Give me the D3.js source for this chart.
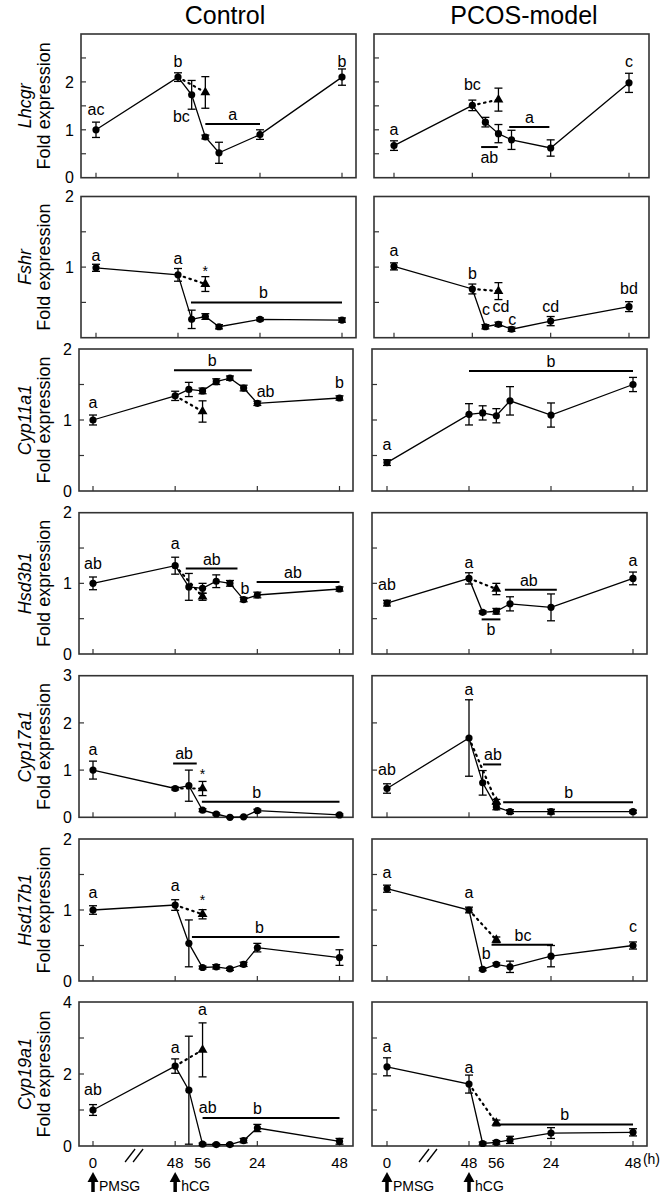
<!DOCTYPE html>
<html><head><meta charset="utf-8">
<script src="https://cdn.jsdelivr.net/npm/d3@7"></script>
<style>body{margin:0;background:#fff}svg{display:block}text{font-family:"Liberation Sans",Arial,sans-serif;fill:#000}</style>
</head><body><svg id="c" width="661" height="1202"></svg>
<script>
// ---------- data ----------
const genes = ["Lhcgr","Fshr","Cyp11a1","Hsd3b1","Cyp17a1","Hsd17b1","Cyp19a1"];
const groups = ["Control","PCOS-model"];
const yMax = [3,2,2,2,3,2,4];
const yTickStep = [0.5,0.5,0.5,0.5,1,0.5,1];
const yTickLabels = [[0,1,2],[1,2],[0,1,2],[0,1,2],[0,1,2,3],[0,1,2],[0,2,4]];
const xTickHours = [0,48,72,96];
const xAxisHours = [0,48,56,72,96];
const xAxisLabels = ["0","48","56","24","48"];
const arrowHours = [0,48];
const arrowLabels = ["PMSG","hCG"];

// series: [hour, mean, error]
const lhcgrCtrl = [[0,1.0,0.16],[48,2.1,0.09],[52,1.73,0.3],[56,0.85,0.04],[60,0.52,0.22],[72,0.9,0.1],[96,2.1,0.17]];
const lhcgrCtrlTri = [56,1.78,0.33];
const lhcgrPcos = [[0,0.67,0.1],[48,1.51,0.11],[52,1.16,0.1],[56,0.92,0.19],[60,0.79,0.2],[72,0.62,0.17],[96,1.98,0.2]];
const lhcgrPcosTri = [56,1.63,0.24];

const fshrCtrl = [[0,0.99,0.05],[48,0.89,0.09],[52,0.26,0.13],[56,0.30,0.04],[60,0.155,0.03],[72,0.26,0.02],[96,0.25,0.03]];
const fshrCtrlTri = [56,0.76,0.105];
const fshrPcos = [[0,1.01,0.05],[48,0.69,0.07],[52,0.155,0.03],[56,0.19,0.03],[60,0.12,0.03],[72,0.235,0.065],[96,0.44,0.07]];
const fshrPcosTri = [56,0.66,0.12];

const cyp11Ctrl = [[0,1.0,0.07],[48,1.34,0.065],[52,1.43,0.1],[56,1.41,0.04],[60,1.54,0.04],[64,1.59,0.03],[68,1.45,0.04],[72,1.235,0.03],[96,1.31,0.03]];
const cyp11CtrlTri = [56,1.12,0.15];
const cyp11Pcos = [[0,0.40,0.04],[48,1.08,0.15],[52,1.10,0.1],[56,1.06,0.1],[60,1.27,0.2],[72,1.07,0.17],[96,1.50,0.1]];
const cyp11PcosTri = null;

const hsd3Ctrl = [[0,1.0,0.09],[48,1.25,0.12],[52,0.95,0.19],[56,0.93,0.07],[60,1.03,0.09],[64,1.0,0.04],[68,0.77,0.03],[72,0.835,0.04],[96,0.92,0.03]];
const hsd3CtrlTri = [56,0.81,0.05];
const hsd3Pcos = [[0,0.72,0.04],[48,1.07,0.08],[52,0.59,0.02],[56,0.605,0.04],[60,0.71,0.1],[72,0.66,0.19],[96,1.07,0.09]];
const hsd3PcosTri = [56,0.92,0.08];

const cyp17Ctrl = [[0,1.0,0.19],[48,0.61,0.03],[52,0.67,0.33],[56,0.15,0.03],[60,0.07,0.02],[64,0.0,0.01],[68,0.01,0.01],[72,0.14,0.03],[96,0.05,0.02]];
const cyp17CtrlTri = [56,0.61,0.15];
const cyp17Pcos = [[0,0.61,0.1],[48,1.68,0.81],[52,0.73,0.26],[56,0.22,0.06],[60,0.12,0.04],[72,0.12,0.05],[96,0.12,0.03]];
const cyp17PcosTri = [56,0.33,0.05];

const hsd17Ctrl = [[0,1.0,0.06],[48,1.07,0.075],[52,0.53,0.33],[56,0.19,0.02],[60,0.2,0.03],[64,0.17,0.02],[68,0.235,0.03],[72,0.47,0.06],[96,0.33,0.11]];
const hsd17CtrlTri = [56,0.94,0.065];
const hsd17Pcos = [[0,1.30,0.05],[48,1.0,0.04],[52,0.165,0.02],[56,0.235,0.02],[60,0.2,0.08],[72,0.35,0.15],[96,0.5,0.05]];
const hsd17PcosTri = [56,0.58,0.04];

const cyp19Ctrl = [[0,1.0,0.15],[48,2.22,0.2],[52,1.55,1.5],[56,0.05,0.03],[60,0.04,0.03],[64,0.04,0.03],[68,0.15,0.06],[72,0.5,0.1],[96,0.13,0.08]];
const cyp19CtrlTri = [56,2.67,0.75];
const cyp19Pcos = [[0,2.2,0.25],[48,1.72,0.25],[52,0.07,0.04],[56,0.1,0.05],[60,0.17,0.1],[72,0.36,0.15],[96,0.38,0.1]];
const cyp19PcosTri = [56,0.64,0.08];

// significance letters: [hour, value, text]
const lhcgrCtrlLetters = [[0,1.31,"ac"],[48,2.32,"b"],[49,1.17,"bc"],[96,2.32,"b"]];
const lhcgrPcosLetters = [[0,0.89,"a"],[48,1.84,"bc"],[96,2.32,"c"]];
const fshrCtrlLetters = [[0,1.09,"a"],[48,1.05,"a"],[56,0.87,"*"]];
const fshrPcosLetters = [[0,1.16,"a"],[48,0.83,"b"],[52.2,0.32,"c"],[56.8,0.36,"cd"],[60.2,0.18,"c"],[72,0.36,"cd"],[96,0.62,"bd"]];
const cyp11CtrlLetters = [[0,1.17,"a"],[74.4,1.32,"ab"],[96,1.45,"b"]];
const cyp11PcosLetters = [[0,0.58,"a"]];
const hsd3CtrlLetters = [[0,1.20,"ab"],[48,1.48,"a"],[68.4,0.85,"b"]];
const hsd3PcosLetters = [[0,0.90,"ab"],[48,1.22,"a"],[96,1.24,"a"]];
const cyp17CtrlLetters = [[0,1.32,"a"],[56,0.81,"*"]];
const cyp17PcosLetters = [[0,0.89,"ab"],[48,2.6,"a"]];
const hsd17CtrlLetters = [[0,1.17,"a"],[48,1.27,"a"],[56,1.07,"*"]];
const hsd17PcosLetters = [[0,1.45,"a"],[48,1.17,"a"],[53,0.31,"b"],[96,0.69,"c"]];
const cyp19CtrlLetters = [[0,1.42,"ab"],[48,2.58,"a"],[57.5,0.92,"ab"],[56,3.64,"a"]];
const cyp19PcosLetters = [[0,2.61,"a"],[48,2.03,"a"]];

// group bars: [fromHour, toHour, value, text, labelHour, side]
const lhcgrCtrlBars = [[56,72,1.12,"a",64,"above"]];
const lhcgrPcosBars = [[59.3,71.6,1.06,"a",65.5,"above"],[50.7,55.8,0.64,"ab",53.2,"below"]];
const fshrCtrlBars = [[51.8,96,0.5,"b",73,"above"]];
const fshrPcosBars = [];
const cyp11CtrlBars = [[47.3,70.4,1.70,"b",58.8,"above"]];
const cyp11PcosBars = [[48,96,1.69,"b",72,"above"]];
const hsd3CtrlBars = [[51.1,66.2,1.21,"ab",58.7,"above"],[71.8,96,1.02,"ab",82.4,"above"]];
const hsd3PcosBars = [[51.7,57.2,0.49,"b",54.4,"below"],[58.5,73.7,0.91,"ab",65.5,"above"]];
const cyp17CtrlBars = [[46.8,54.3,1.14,"ab",50.6,"above"],[55.8,96,0.33,"b",71.8,"above"]];
const cyp17PcosBars = [[52.1,57.4,1.12,"ab",55,"above"],[58,96,0.32,"b",77.2,"above"]];
const hsd17CtrlBars = [[52.9,96,0.62,"b",72.6,"above"]];
const hsd17PcosBars = [[54.6,72.6,0.51,"bc",63.8,"above"]];
const cyp19CtrlBars = [[56,96,0.78,"b",72,"above"]];
const cyp19PcosBars = [[56,96,0.6,"b",76,"above"]];

const panels = [
  [[lhcgrCtrl,lhcgrCtrlTri,lhcgrCtrlLetters,lhcgrCtrlBars],[lhcgrPcos,lhcgrPcosTri,lhcgrPcosLetters,lhcgrPcosBars]],
  [[fshrCtrl,fshrCtrlTri,fshrCtrlLetters,fshrCtrlBars],[fshrPcos,fshrPcosTri,fshrPcosLetters,fshrPcosBars]],
  [[cyp11Ctrl,cyp11CtrlTri,cyp11CtrlLetters,cyp11CtrlBars],[cyp11Pcos,cyp11PcosTri,cyp11PcosLetters,cyp11PcosBars]],
  [[hsd3Ctrl,hsd3CtrlTri,hsd3CtrlLetters,hsd3CtrlBars],[hsd3Pcos,hsd3PcosTri,hsd3PcosLetters,hsd3PcosBars]],
  [[cyp17Ctrl,cyp17CtrlTri,cyp17CtrlLetters,cyp17CtrlBars],[cyp17Pcos,cyp17PcosTri,cyp17PcosLetters,cyp17PcosBars]],
  [[hsd17Ctrl,hsd17CtrlTri,hsd17CtrlLetters,hsd17CtrlBars],[hsd17Pcos,hsd17PcosTri,hsd17PcosLetters,hsd17PcosBars]],
  [[cyp19Ctrl,cyp19CtrlTri,cyp19CtrlLetters,cyp19CtrlBars],[cyp19Pcos,cyp19PcosTri,cyp19PcosLetters,cyp19PcosBars]]
];

// ---------- layout ----------
const rowTop = [34,196.5,349,512.7,675.7,839,1002];
const rowBottom = [177.7,337.7,491,654,817.3,981,1146];
function frameX(row,col){
  if(col===0) return row<2 ? {x0:81,x1:356,t0:96,t3:342} : {x0:79,x1:353,t0:93,t3:339.5};
  return row<2 ? {x0:374,x1:649,t0:394,t3:629} : {x0:372,x1:647,t0:387,t3:633};
}

const svg = d3.select("#c");
const FRAME = "#333";

// titles
svg.append("text").attr("x",225).attr("y",24).attr("text-anchor","middle").attr("font-size",25).text(groups[0]);
svg.append("text").attr("x",524).attr("y",24).attr("text-anchor","middle").attr("font-size",25).text(groups[1]);

const scales = [];
for(let r=0;r<7;r++){
  scales.push([]);
  for(let c=0;c<2;c++){
    const f = frameX(r,c);
    const x = d3.scaleLinear().domain([0,48,96]).range([f.t0, f.t0+(f.t3-f.t0)/3, f.t3]);
    const y = d3.scaleLinear().domain([0,yMax[r]]).range([rowBottom[r],rowTop[r]]);
    scales[r].push({x,y,f});
    const g = svg.append("g");
    const [series,tri,letters,bars] = panels[r][c];

    // frame
    g.append("rect").attr("x",f.x0).attr("y",rowTop[r]).attr("width",f.x1-f.x0).attr("height",rowBottom[r]-rowTop[r])
      .attr("fill","none").attr("stroke",FRAME).attr("stroke-width",1.6);
    // y ticks (inward)
    const yt = d3.range(yTickStep[r], yMax[r]-1e-6, yTickStep[r]);
    g.selectAll(null).data(yt).join("line")
      .attr("x1",f.x0).attr("x2",f.x0+5).attr("y1",d=>y(d)).attr("y2",d=>y(d))
      .attr("stroke",FRAME).attr("stroke-width",1.2);
    // x ticks (inward)
    g.selectAll(null).data(xTickHours).join("line")
      .attr("x1",d=>x(d)).attr("x2",d=>x(d)).attr("y1",rowBottom[r]).attr("y2",rowBottom[r]-5)
      .attr("stroke",FRAME).attr("stroke-width",1.2);
    if(c===0){
      g.selectAll(null).data(yTickLabels[r]).join("text")
        .attr("x",f.x0-7).attr("y",d=>y(d)).attr("dy","0.36em").attr("text-anchor","end")
        .attr("font-size",16).text(d=>d);
      const cy = (rowTop[r]+rowBottom[r])/2;
      g.append("text").attr("transform",`translate(31,${cy}) rotate(-90)`).attr("text-anchor","middle")
        .attr("font-size",18).attr("font-style","italic").text(genes[r]);
      g.append("text").attr("transform",`translate(50,${cy}) rotate(-90)`).attr("text-anchor","middle")
        .attr("font-size",18).text("Fold expression");
    }

    // main line
    const line = d3.line().x(d=>x(d[0])).y(d=>y(d[1]));
    g.append("path").attr("d",line(series)).attr("fill","none").attr("stroke","#000").attr("stroke-width",1.3);
    // dotted to triangle
    if(tri){
      const start = series.find(d=>d[0]===48);
      g.append("path").attr("d",line([start,tri])).attr("fill","none").attr("stroke","#000")
        .attr("stroke-width",2.2).attr("stroke-dasharray","1.5,4.5").attr("stroke-linecap","round");
    }
    // error bars
    const pts = tri ? series.concat([tri]) : series;
    const eb = g.selectAll(null).data(pts).join("g").attr("stroke","#000").attr("stroke-width",1.3);
    eb.append("line").attr("x1",d=>x(d[0])).attr("x2",d=>x(d[0])).attr("y1",d=>y(d[1]-d[2])).attr("y2",d=>y(d[1]+d[2]));
    eb.append("line").attr("x1",d=>x(d[0])-4).attr("x2",d=>x(d[0])+4).attr("y1",d=>y(d[1]-d[2])).attr("y2",d=>y(d[1]-d[2]));
    eb.append("line").attr("x1",d=>x(d[0])-4).attr("x2",d=>x(d[0])+4).attr("y1",d=>y(d[1]+d[2])).attr("y2",d=>y(d[1]+d[2]));
    // markers
    g.selectAll(null).data(series).join("circle").attr("cx",d=>x(d[0])).attr("cy",d=>y(d[1])).attr("r",3.6).attr("fill","#000");
    if(tri){
      g.append("path").attr("d",d3.symbol(d3.symbolTriangle,42)()).attr("transform",`translate(${x(tri[0])},${y(tri[1])})`).attr("fill","#000");
    }
    // group bars
    bars.forEach(b=>{
      g.append("line").attr("x1",x(b[0])).attr("x2",x(b[1])).attr("y1",y(b[2])).attr("y2",y(b[2]))
        .attr("stroke","#000").attr("stroke-width",2);
      g.append("text").attr("x",x(b[4])).attr("y",y(b[2]) + (b[5]==="above" ? -4 : 16))
        .attr("text-anchor","middle").attr("font-size",16).text(b[3]);
    });
    // letters
    g.selectAll(null).data(letters).join("text").attr("x",d=>x(d[0])).attr("y",d=>y(d[1]))
      .attr("text-anchor","middle").attr("font-size",d=>d[2]==="*"?14:16).text(d=>d[2]);
  }
}

// bottom axis annotations
for(let c=0;c<2;c++){
  const {x} = scales[6][c];
  const base = rowBottom[6];
  svg.selectAll(null).data(xAxisHours).join("text").attr("x",d=>x(d)).attr("y",base+22)
    .attr("text-anchor","middle").attr("font-size",15).text((d,i)=>xAxisLabels[i]);
  // break marks
  const bx = (x(0)+x(48))/2;
  [-4,4].forEach(o=>{
    svg.append("line").attr("x1",bx+o-5).attr("x2",bx+o+5).attr("y1",base+16).attr("y2",base+3)
      .attr("stroke","#000").attr("stroke-width",1.3);
  });
  arrowHours.forEach((h,i)=>{
    const ax = x(h);
    svg.append("line").attr("x1",ax).attr("x2",ax).attr("y1",base+46).attr("y2",base+34)
      .attr("stroke","#000").attr("stroke-width",3.5);
    svg.append("path").attr("d",`M${ax-5.5},${base+36}L${ax+5.5},${base+36}L${ax},${base+26}Z`).attr("fill","#000");
    svg.append("text").attr("x",ax+6).attr("y",base+45).attr("font-size",14).text(arrowLabels[i]);
  });
}
svg.append("text").attr("x",660).attr("y",rowBottom[6]+18).attr("text-anchor","end").attr("font-size",14).text("(h)");
</script></body></html>
